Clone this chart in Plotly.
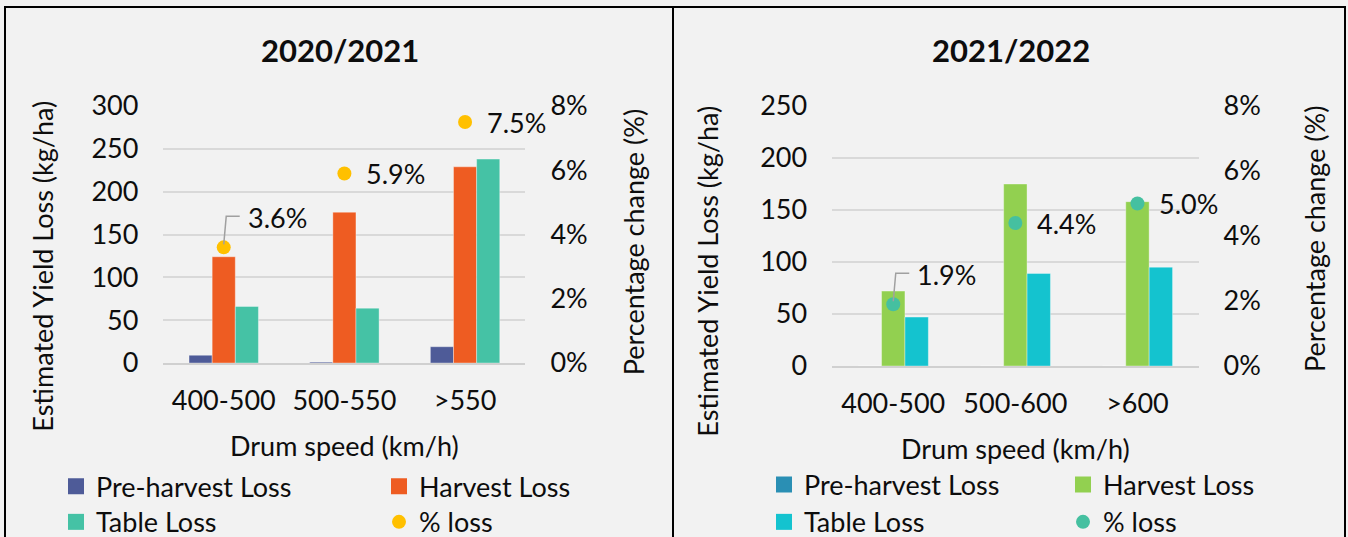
import plotly.graph_objects as go

# ---- 2020/2021 season ----
categories_2021 = ["400-500", "500-550", ">550"]
pre_harvest_2021 = [9, 1, 19]
harvest_2021 = [124, 176, 229]
table_2021 = [66, 64, 238]
pct_loss_2021 = [0.036, 0.059, 0.075]

# ---- 2021/2022 season ----
categories_2022 = ["400-500", "500-600", ">600"]
pre_harvest_2022 = [0, 0, 0]
harvest_2022 = [72, 175, 158]
table_2022 = [47, 89, 95]
pct_loss_2022 = [0.019, 0.044, 0.050]

W, H = 1348, 537
FONT = "Lato"
FS = 27
INK = "#0d0d0d"
BG = "#f2f2f2"
GRID = "#d9d9d9"

colors_2021 = {"pre": "#4E5B98", "harvest": "#EE5C22", "table": "#45C2A5", "pct": "#FFC000"}
colors_2022 = {"pre": "#2A8FB4", "harvest": "#92D050", "table": "#14C3CF", "pct": "#45C0A0"}


def px_x(v):
    return v / W


def px_y(v):
    return 1 - v / H


fig = go.Figure()

panels = [
    dict(cats=categories_2021, pre=pre_harvest_2021, harv=harvest_2021, table=table_2021,
         pct=pct_loss_2021, col=colors_2021, xa="x", ya="y", ya2="y2", leg=("legend", "legend2"), tag="a"),
    dict(cats=categories_2022, pre=pre_harvest_2022, harv=harvest_2022, table=table_2022,
         pct=pct_loss_2022, col=colors_2022, xa="x2", ya="y3", ya2="y4", leg=("legend3", "legend4"), tag="b"),
]

edge = dict(color="rgba(255,255,255,0.35)", width=1)

for p in panels:
    series = [("Pre-harvest Loss", p["pre"], p["col"]["pre"], p["leg"][0], 1),
              ("Harvest Loss", p["harv"], p["col"]["harvest"], p["leg"][0], 2),
              ("Table Loss", p["table"], p["col"]["table"], p["leg"][1], 1)]
    for name, vals, color, leg, rank in series:
        grp = p["tag"] + name
        fig.add_trace(go.Bar(x=p["cats"], y=vals, name=name, marker=dict(color=color, line=edge),
                             xaxis=p["xa"], yaxis=p["ya"], showlegend=False, legendgroup=grp))
        # square swatch for the legend entry
        fig.add_trace(go.Scatter(x=[None], y=[None], mode="markers", name=name,
                                 marker=dict(symbol="square", size=16, color=color),
                                 xaxis=p["xa"], yaxis=p["ya"], legend=leg, legendgroup=grp,
                                 legendrank=rank))
    fig.add_trace(go.Scatter(x=p["cats"], y=p["pct"], mode="markers", name="% loss",
                             marker=dict(size=14, color=p["col"]["pct"]),
                             xaxis=p["xa"], yaxis=p["ya2"], legend=p["leg"][1], legendrank=2))

tickfont = dict(family=FONT, size=FS, color=INK)
yax_common = dict(showgrid=True, gridcolor=GRID, gridwidth=1.5, zeroline=False, showline=False,
                  tickfont=tickfont, ticks="", dtick=50, ticklabelstandoff=24, fixedrange=True)
y2_common = dict(side="right", showgrid=False, zeroline=False, showline=False, tickfont=tickfont,
                 ticks="", range=[0, 0.08], dtick=0.02, tickformat=".0%", ticklabelstandoff=24,
                 fixedrange=True)
xax_common = dict(showgrid=False, showline=True, linecolor="#d0d0d0", linewidth=2, ticks="",
                  tickfont=tickfont, ticklabelstandoff=13, range=[-0.5, 2.5], fixedrange=True)

fig.update_layout(
    width=W, height=H,
    margin=dict(l=0, r=0, t=0, b=0, autoexpand=False),
    paper_bgcolor=BG, plot_bgcolor=BG,
    font=dict(family=FONT, size=FS, color=INK),
    barmode="group", bargap=0.425, bargroupgap=0,
    xaxis=dict(domain=[px_x(163.4), px_x(525.4)], anchor="y", **xax_common),
    yaxis=dict(domain=[px_y(363), px_y(106)], anchor="x", range=[0, 300], **yax_common),
    yaxis2=dict(overlaying="y", anchor="x", **y2_common),
    xaxis2=dict(domain=[px_x(832.2), px_x(1198.5)], anchor="y3", **xax_common),
    yaxis3=dict(domain=[px_y(366), px_y(106)], anchor="x2", range=[0, 250], **yax_common),
    yaxis4=dict(overlaying="y3", anchor="x2", **y2_common),
)

legend_common = dict(orientation="h", xanchor="left", yanchor="middle", bgcolor="rgba(0,0,0,0)",
                     font=dict(family=FONT, size=FS, color=INK), itemsizing="trace",
                     entrywidthmode="pixels", traceorder="normal")
fig.update_layout(
    legend=dict(x=px_x(56), y=px_y(486.7), entrywidth=278, **legend_common),
    legend2=dict(x=px_x(56), y=px_y(522.3), entrywidth=278, **legend_common),
    legend3=dict(x=px_x(764), y=px_y(485), entrywidth=254, **legend_common),
    legend4=dict(x=px_x(764), y=px_y(522.3), entrywidth=254, **legend_common),
)

annotations = []
shapes = []


def text(x, y, s, size=FS, bold=False, angle=0):
    annotations.append(dict(xref="paper", yref="paper", x=px_x(x), y=px_y(y), text=f"<b>{s}</b>" if bold else s,
                            showarrow=False, textangle=angle, xanchor="center", yanchor="middle",
                            font=dict(family=FONT, size=size, color=INK)))


# panel titles and axis titles
text(339.6, 50.5, "2020/2021", size=31, bold=True)
text(1010.6, 50.5, "2021/2022", size=31, bold=True)
text(43, 266.7, "Estimated Yield Loss (kg/ha)", angle=-90)
text(708, 271.7, "Estimated Yield Loss (kg/ha)", angle=-90)
text(633, 242.3, "Percentage change (%)", angle=-90)
text(1314, 239, "Percentage change (%)", angle=-90)
text(344, 445, "Drum speed (km/h)")
text(1015.8, 448, "Drum speed (km/h)")

# value labels for % loss; the first point of each panel uses a leader line
for p in panels:
    for i, (cat, v) in enumerate(zip(p["cats"], p["pct"])):
        lead = i == 0
        annotations.append(dict(xref=p["xa"], yref=p["ya2"], x=cat, y=v, text=f"{v * 100:.1f}%",
                                showarrow=False, xanchor="left", yanchor="middle",
                                xshift=22 if lead else 20, yshift=30 if lead else 0,
                                font=dict(family=FONT, size=FS, color=INK)))
        if lead:
            shapes.append(dict(type="path", xref=p["xa"], yref=p["ya2"], xsizemode="pixel",
                               ysizemode="pixel", xanchor=i, yanchor=v,
                               path="M 0,3 L 2.5,31 L 16,31",
                               line=dict(color="#a0a0a0", width=1.5)))

# panel frames
shapes.append(dict(type="rect", xref="paper", yref="paper", x0=px_x(5), x1=px_x(673),
                   y0=px_y(545), y1=px_y(7), line=dict(color="black", width=2)))
shapes.append(dict(type="rect", xref="paper", yref="paper", x0=px_x(673), x1=px_x(1345),
                   y0=px_y(545), y1=px_y(7), line=dict(color="black", width=2)))

fig.update_layout(annotations=annotations, shapes=shapes)

fig.write_html("out.html")
